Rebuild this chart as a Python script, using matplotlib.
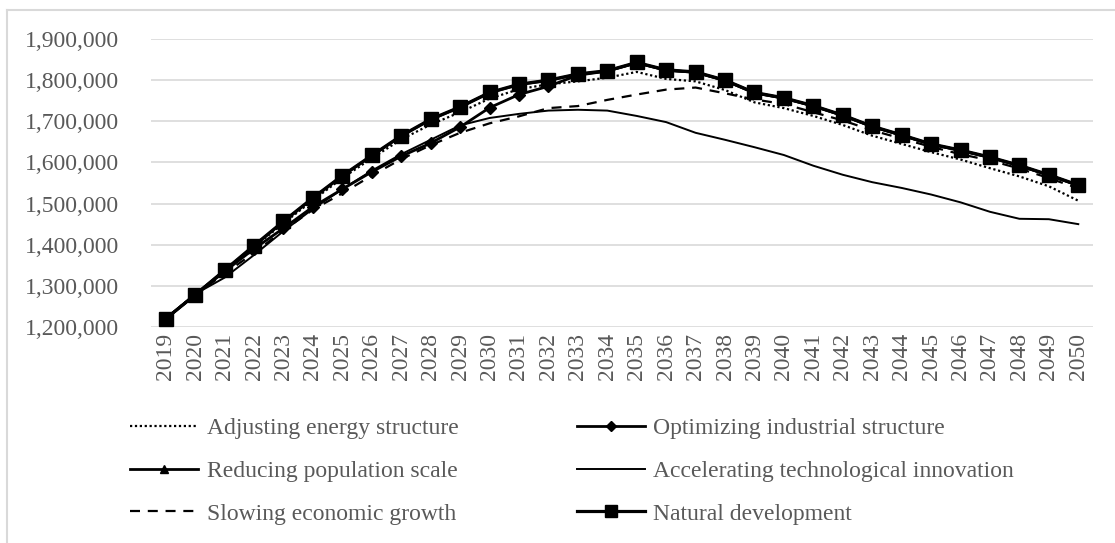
import matplotlib
matplotlib.use("Agg")
import matplotlib.pyplot as plt
from matplotlib.lines import Line2D
from matplotlib.ticker import FuncFormatter

years = list(range(2019, 2051))

adjusting_energy = [1220000, 1280000, 1335000, 1395000, 1452000, 1508000, 1562000, 1610000,
                    1656000, 1692000, 1722000, 1755000, 1778000, 1790000, 1797000, 1806000,
                    1820000, 1803000, 1797000, 1776000, 1746000, 1732000, 1713000, 1691000,
                    1665000, 1645000, 1625000, 1607000, 1586000, 1566000, 1542000, 1507000]

optimizing_industrial = [1220000, 1278000, 1335000, 1390000, 1440000, 1492000, 1535000, 1577000,
                         1615000, 1647000, 1686000, 1733000, 1765000, 1785000, 1812000, 1822000,
                         1842000, 1824000, 1819000, 1799000, 1769000, 1756000, 1737000, 1714000,
                         1687000, 1666000, 1644000, 1629000, 1612000, 1592000, 1569000, 1544000]

reducing_population = [1220000, 1279000, 1337000, 1397000, 1456000, 1513000, 1567000, 1616000,
                       1664000, 1704000, 1734000, 1769000, 1789000, 1799000, 1814000, 1822000,
                       1842000, 1824000, 1819000, 1799000, 1769000, 1756000, 1737000, 1714000,
                       1687000, 1666000, 1644000, 1629000, 1612000, 1592000, 1569000, 1544000]

accelerating_tech = [1220000, 1280000, 1320000, 1375000, 1433000, 1487000, 1535000, 1580000,
                     1620000, 1655000, 1690000, 1708000, 1718000, 1726000, 1728000, 1726000,
                     1713000, 1698000, 1672000, 1655000, 1637000, 1618000, 1592000, 1570000,
                     1552000, 1538000, 1522000, 1503000, 1480000, 1463000, 1462000, 1450000]

slowing_growth = [1220000, 1278000, 1330000, 1380000, 1435000, 1485000, 1525000, 1568000,
                  1608000, 1642000, 1672000, 1695000, 1712000, 1732000, 1737000, 1752000,
                  1765000, 1777000, 1782000, 1768000, 1753000, 1742000, 1722000, 1702000,
                  1678000, 1658000, 1638000, 1620000, 1605000, 1585000, 1562000, 1537000]

natural_development = [1220000, 1278000, 1338000, 1398000, 1457000, 1514000, 1568000, 1617000,
                       1665000, 1705000, 1735000, 1770000, 1790000, 1800000, 1815000, 1823000,
                       1843000, 1825000, 1820000, 1800000, 1770000, 1757000, 1738000, 1715000,
                       1688000, 1667000, 1645000, 1630000, 1613000, 1593000, 1570000, 1545000]

labels = ["Adjusting energy structure", "Optimizing industrial structure",
          "Reducing population scale", "Accelerating technological innovation",
          "Slowing economic growth", "Natural development"]

yticks = [1200000, 1300000, 1400000, 1500000, 1600000, 1700000, 1800000, 1900000]

plt.rcParams['font.family'] = ['Liberation Serif', 'DejaVu Serif']
TXT = '#595959'
FS = 17

W, H = 1115, 543
fig = plt.figure(figsize=(W / 100, H / 100), dpi=100)
ax = fig.add_axes([151 / W, 1 - 327 / H, (1093 - 151) / W, (327 - 39) / H])

x = list(range(len(years)))

styles = [
    dict(color='black', lw=1.6, ls=(0, (1, 1.2))),
    dict(color='black', lw=2.0, marker='D', ms=6.5),
    dict(color='black', lw=2.0, marker='^', ms=7.5),
    dict(color='black', lw=1.4),
    dict(color='black', lw=1.6, ls=(0, (4.5, 3.5))),
    dict(color='black', lw=2.3, marker='s', ms=9.5),
]
series = [adjusting_energy, optimizing_industrial, reducing_population,
          accelerating_tech, slowing_growth, natural_development]

for s, st, lab in zip(series, styles, labels):
    ax.plot(x, s, label=lab, **st)

ax.set_xlim(-0.5, len(years) - 0.5)
ax.set_ylim(1200000, 1900000)
ax.set_yticks(yticks)
ax.yaxis.set_major_formatter(FuncFormatter(lambda v, p: f"{int(v):,}"))
ax.set_xticks(x)
ax.set_xticklabels([str(y) for y in years], rotation=90)
ax.tick_params(axis='y', length=0, pad=23, labelsize=FS, labelcolor=TXT)
ax.tick_params(axis='x', length=0, pad=4, labelsize=FS, labelcolor=TXT)
ax.grid(axis='y', color='#d9d9d9', lw=1.2)
ax.set_axisbelow(True)
for sp in ax.spines.values():
    sp.set_visible(False)

leg_handles = []
for st in styles:
    d = dict(st)
    if 'ms' in d:
        d['ms'] = d['ms'] * 0.85
    leg_handles.append(Line2D([0], [0], **d))

order = [0, 2, 4, 1, 3, 5]
leg = fig.legend([leg_handles[i] for i in order], [labels[i] for i in order],
                 ncol=2, loc='center', bbox_to_anchor=(572 / W, 1 - 471 / H),
                 frameon=False, fontsize=FS, handlelength=2.9, handletextpad=0.35,
                 columnspacing=5.0, labelspacing=0.9)
for t in leg.get_texts():
    t.set_color(TXT)

fig.add_artist(Line2D([7 / W, 1.0], [1 - 10 / H, 1 - 10 / H], transform=fig.transFigure,
                      color='#d9d9d9', lw=1.5))
fig.add_artist(Line2D([7 / W, 7 / W], [1 - 10 / H, 0.0], transform=fig.transFigure,
                      color='#d9d9d9', lw=1.5))

fig.savefig('out.png', dpi=100, facecolor='white')
